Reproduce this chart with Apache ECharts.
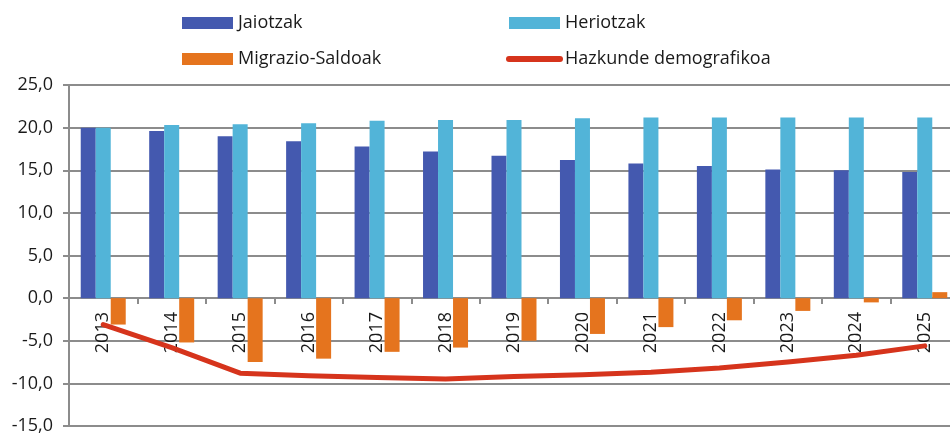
<!DOCTYPE html>
<html>
<head>
<meta charset="UTF-8">
<script src="https://cdn.jsdelivr.net/npm/echarts@6/dist/echarts.min.js"></script>
<style>
  body { margin: 0; padding: 0; background: #fff; }
  #chart { width: 950px; height: 434px; }
</style>
</head>
<body>
<div id="chart"></div>
<script>
var years = ['2013','2014','2015','2016','2017','2018','2019','2020','2021','2022','2023','2024','2025'];
var jaiotzak = [20.0, 19.6, 19.0, 18.4, 17.8, 17.2, 16.7, 16.2, 15.8, 15.5, 15.1, 15.0, 14.8];
var heriotzak = [20.0, 20.3, 20.4, 20.5, 20.8, 20.9, 20.9, 21.1, 21.2, 21.2, 21.2, 21.2, 21.2];
var migrazio = [-3.1, -5.2, -7.5, -7.1, -6.3, -5.8, -5.0, -4.2, -3.4, -2.6, -1.5, -0.5, 0.7];
var hazkunde = [-3.1, -5.8, -8.8, -9.1, -9.3, -9.5, -9.2, -9.0, -8.7, -8.2, -7.5, -6.7, -5.6];

var font = "'Open Sans', sans-serif";
var gridColor = '#8c8c8c';

var chart = echarts.init(document.getElementById('chart'));
chart.setOption({
    animation: false,
    textStyle: { fontFamily: font },
    legend: [
        {
            orient: 'vertical', left: 177, top: 9, itemWidth: 51, itemHeight: 12, itemGap: 18,
            textStyle: { fontFamily: font, fontSize: 18, color: '#1a1a1a' },
            data: [{ name: 'Jaiotzak', icon: 'rect' }, { name: 'Migrazio-Saldoak', icon: 'rect' }]
        },
        {
            orient: 'vertical', left: 501, top: 9, itemWidth: 51, itemHeight: 12, itemGap: 18,
            textStyle: { fontFamily: font, fontSize: 18, color: '#1a1a1a' },
            data: [
                { name: 'Heriotzak', icon: 'rect' },
                { name: 'Hazkunde demografikoa', itemStyle: { opacity: 0 }, lineStyle: { width: 6, cap: 'round' } }
            ]
        }
    ],
    grid: { left: 69, right: -9, top: 85, bottom: 8, outerBoundsMode: 'none', containLabel: false },
    xAxis: {
        type: 'category',
        data: years,
        // axis sits on the zero line (offset up from the bottom of the grid)
        offset: -128,
        axisLine: { onZero: false, lineStyle: { color: gridColor, width: 2 } },
        axisTick: { show: true, length: 6, lineStyle: { color: gridColor, width: 2 } },
        axisLabel: { rotate: 90, margin: 14, fontSize: 18, color: '#1a1a1a', fontFamily: font }
    },
    yAxis: {
        type: 'value',
        min: -15, max: 25, interval: 5,
        axisLine: { show: true, lineStyle: { color: gridColor, width: 2 } },
        axisTick: { show: true, length: 6, lineStyle: { color: gridColor, width: 2 } },
        splitLine: { show: true, lineStyle: { color: gridColor, width: 2 } },
        axisLabel: {
            fontSize: 18, color: '#1a1a1a', fontFamily: font, margin: 16,
            formatter: function (v) { return v.toFixed(1).replace('.', ','); }
        }
    },
    series: [
        { name: 'Jaiotzak', type: 'bar', data: jaiotzak, barWidth: 15, barGap: '0%', itemStyle: { color: '#4459af' } },
        { name: 'Heriotzak', type: 'bar', data: heriotzak, barWidth: 15, barGap: '0%', itemStyle: { color: '#52b4d8' } },
        { name: 'Migrazio-Saldoak', type: 'bar', data: migrazio, barWidth: 15, barGap: '0%', itemStyle: { color: '#e5741e' } },
        {
            name: 'Hazkunde demografikoa', type: 'line', data: hazkunde,
            symbol: 'none', z: 5,
            lineStyle: { color: '#d6341c', width: 5, cap: 'round', join: 'round' },
            itemStyle: { color: '#d6341c' }
        }
    ]
});
</script>
</body>
</html>
